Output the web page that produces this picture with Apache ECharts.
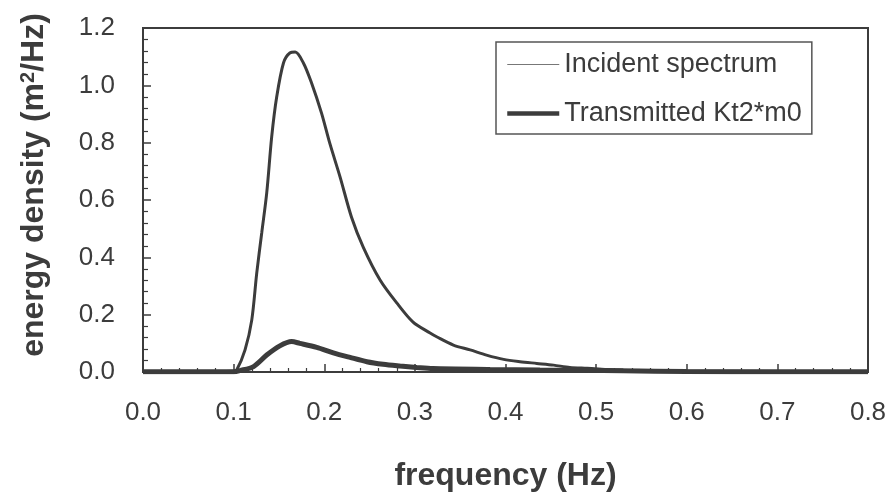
<!DOCTYPE html>
<html>
<head>
<meta charset="utf-8">
<script src="https://cdn.jsdelivr.net/npm/echarts@6/dist/echarts.min.js"></script>
<style>
html,body{margin:0;padding:0;background:#fff;}
#chart{width:891px;height:493px;}
</style>
</head>
<body>
<div id="chart"></div>
<script>
// Incident spectrum
var incFreq = [0, 0.05, 0.1, 0.1034, 0.1126, 0.120, 0.1255, 0.131, 0.1365, 0.142, 0.1475, 0.155, 0.162, 0.168, 0.177, 0.186, 0.197, 0.206, 0.2175, 0.230, 0.243, 0.2616, 0.280, 0.298, 0.3168, 0.324, 0.3425, 0.361, 0.379, 0.398, 0.416, 0.4345, 0.453, 0.471, 0.49, 0.526, 0.56, 0.6, 0.7, 0.8];
var incVal  = [0.002, 0.002, 0.003, 0.007, 0.077, 0.181, 0.345, 0.485, 0.624, 0.820, 0.959, 1.078, 1.113, 1.116, 1.078, 1.008, 0.903, 0.799, 0.680, 0.541, 0.436, 0.321, 0.241, 0.174, 0.136, 0.123, 0.094, 0.077, 0.059, 0.044, 0.036, 0.030, 0.024, 0.016, 0.013, 0.007, 0.005, 0.003, 0.002, 0.002];
// Transmitted Kt2*m0
var trFreq = [0, 0.05, 0.1, 0.107, 0.122, 0.1365, 0.151, 0.164, 0.173, 0.1917, 0.210, 0.2285, 0.247, 0.265, 0.2837, 0.302, 0.320, 0.383, 0.438, 0.486, 0.53, 0.6, 0.7, 0.8];
var trVal  = [0.001, 0.001, 0.001, 0.005, 0.019, 0.059, 0.091, 0.106, 0.100, 0.086, 0.067, 0.051, 0.036, 0.027, 0.021, 0.016, 0.012, 0.009, 0.007, 0.006, 0.004, 0.002, 0.001, 0.001];

var seriesNames = ['Incident spectrum', 'Transmitted Kt2*m0'];
var xTicks = {min: 0, max: 0.8, step: 0.1};
var yTicks = {min: 0, max: 1.2, step: 0.2};

function pairs(xs, ys) { return xs.map(function (x, i) { return [x, ys[i]]; }); }

var FONT = 'Liberation Sans, Arial, sans-serif';
var INK = '#3c3c3c';
var NOSYM = {color: 'rgba(0,0,0,0)', borderWidth: 0, opacity: 0};

var chart = echarts.init(document.getElementById('chart'), null, {renderer: 'canvas'});
chart.setOption({
  animation: false,
  backgroundColor: '#ffffff',
  grid: {left: 143, right: 23, top: 28, bottom: 121, containLabel: false, outerBoundsMode: 'none',
         show: true, borderColor: INK, borderWidth: 2, backgroundColor: 'transparent'},
  legend: {
    show: true,
    orient: 'vertical',
    left: 496, top: 42,
    padding: [9, 10, 7, 9],
    itemGap: 22,
    itemWidth: 52, itemHeight: 26,
    borderColor: '#555', borderWidth: 1.5,
    backgroundColor: '#fff',
    textStyle: {fontFamily: FONT, fontSize: 27, color: INK},
    data: [
      {name: seriesNames[0], lineStyle: {width: 1.2, color: '#777'}, itemStyle: NOSYM},
      {name: seriesNames[1], lineStyle: {width: 4.5, color: INK}, itemStyle: NOSYM}
    ]
  },
  xAxis: {
    type: 'value', min: xTicks.min, max: xTicks.max, interval: xTicks.step,
    name: 'frequency (Hz)', nameLocation: 'middle', nameGap: 88,
    nameTextStyle: {fontFamily: FONT, fontSize: 32, fontWeight: 'bold', color: INK},
    axisLine: {show: true, onZero: false, lineStyle: {color: INK, width: 2}},
    axisTick: {show: true, inside: true, length: 8, lineStyle: {color: INK, width: 1.5}},
    minorTick: {show: true, splitNumber: 5, length: 4, lineStyle: {color: INK, width: 1.2}},
    splitLine: {show: false},
    axisLabel: {margin: 28, fontFamily: FONT, fontSize: 26, color: INK, formatter: function (v) { return v.toFixed(1); }}
  },
  yAxis: {
    type: 'value', min: yTicks.min, max: yTicks.max, interval: yTicks.step,
    name: '{a|energy density (m}{s|2}{a|/Hz)}', nameLocation: 'middle', nameGap: 93, nameRotate: 90,
    nameTextStyle: {
      fontFamily: FONT, fontSize: 32, fontWeight: 'bold', color: INK,
      padding: [0, 0, 0, 30],
      rich: {
        a: {fontFamily: FONT, fontSize: 32, fontWeight: 'bold', color: INK, verticalAlign: 'bottom'},
        s: {fontFamily: FONT, fontSize: 20, fontWeight: 'bold', color: INK, verticalAlign: 'top', padding: [0, 0, 12, 0]}
      }
    },
    axisLine: {show: true, lineStyle: {color: INK, width: 2}},
    axisTick: {show: true, inside: true, length: 8, lineStyle: {color: INK, width: 1.5}},
    minorTick: {show: true, splitNumber: 5, length: 5, lineStyle: {color: INK, width: 1.2}},
    splitLine: {show: false},
    axisLabel: {margin: 28, fontFamily: FONT, fontSize: 26, color: INK, formatter: function (v) { return v.toFixed(1); }}
  },
  series: [
    {
      name: seriesNames[0], type: 'line', data: pairs(incFreq, incVal),
      showSymbol: false, symbol: 'none', smooth: 0.3,
      lineStyle: {color: INK, width: 3}, itemStyle: {color: INK}, z: 3
    },
    {
      name: seriesNames[1], type: 'line', data: pairs(trFreq, trVal),
      showSymbol: false, symbol: 'none', smooth: 0.3,
      lineStyle: {color: INK, width: 5}, itemStyle: {color: INK}, z: 4
    }
  ]
});
</script>
</body>
</html>
